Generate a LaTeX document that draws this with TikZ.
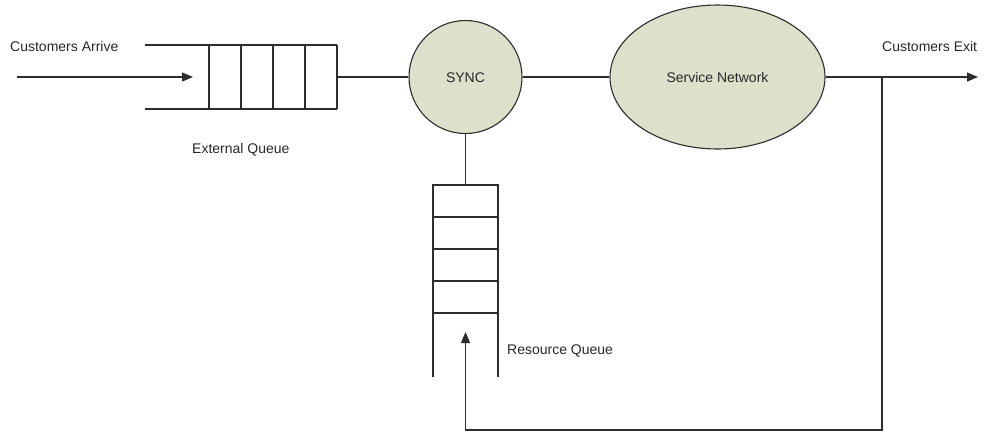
\documentclass[tikz,border=0pt]{standalone}
\usepackage{fontspec}
\setmainfont{Liberation Sans}
\usetikzlibrary{arrows.meta,shapes.geometric}
\definecolor{nodefill}{RGB}{221,224,202}
\definecolor{ink}{RGB}{45,45,45}
\definecolor{txt}{RGB}{40,40,40}
\tikzset{
  wire/.style={draw=ink,line width=1.2pt},
  flow/.style={wire,-{Triangle[length=11pt,width=9pt]}},
  hub/.style={circle,draw=ink,line width=1.1pt,fill=nodefill,minimum size=113pt,inner sep=0pt},
  cloud/.style={ellipse,draw=ink,line width=1.1pt,fill=nodefill,minimum width=215pt,minimum height=144pt,inner sep=0pt},
  lbl/.style={text=txt,font=\fontsize{14}{16}\selectfont,inner sep=0pt},
}
\begin{document}
\begin{tikzpicture}[x=1pt,y=-1pt]
\useasboundingbox[fill=white] (0,0) rectangle (984,432);

% external queue: open-ended channel with four cells
\draw[wire] (145,45) -- (337,45);
\draw[wire] (145,109) -- (337,109);
\foreach \x in {209,241,273,305,337}
  \draw[wire] (\x,45) -- (\x,109);

% resource queue: open at the bottom, four cells at the top
\draw[wire] (433,377) -- (433,185) -- (498,185) -- (498,377);
\foreach \y in {217,249,281,313}
  \draw[wire] (433,\y) -- (498,\y);

% main nodes
\node[hub] (sync) at (465.5,77) {};
\node[lbl,anchor=base] at (465.5,82) {SYNC};
\node[cloud] (net) at (717.5,77) {};
\node[lbl,anchor=base] at (717.5,82) {Service Network};

% anchor points of the connectors
\coordinate (src) at (17,77);
\coordinate (qin) at (193,77);
\coordinate (qout) at (337,77);
\coordinate (rtop) at (465.5,185);
\coordinate (sink) at (978,77);
\coordinate (tap) at (882,77);
\coordinate (corner) at (882,430);
\coordinate (back) at (465.5,430);
\coordinate (rin) at (465.5,332);

% connectors
\draw[flow] (src) -- (qin);
\draw[wire] (qout) -- (sync.west);
\draw[wire] (sync.east) -- (net.west);
\draw[flow] (net.east) -- (sink);
\draw[wire] (sync.south) -- (rtop);
\draw[flow] (tap) -- (corner) -- (back) -- (rin);

% labels
\node[lbl,anchor=base west] (arrive) at (10,51) {Customers Arrive};
\node[lbl,anchor=base west] (extq) at (192,153) {External Queue};
\node[lbl,anchor=base west] (exit) at (882,51) {Customers Exit};
\node[lbl,anchor=base west] (resq) at (507,354) {Resource Queue};
\end{tikzpicture}
\end{document}
